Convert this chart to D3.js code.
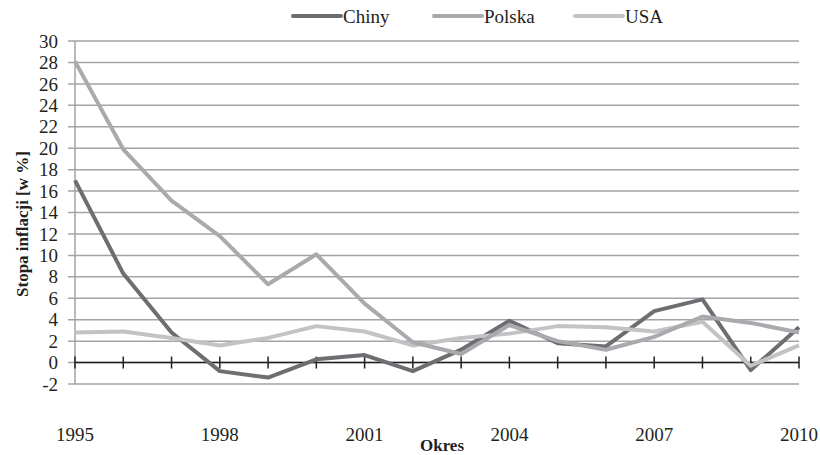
<!DOCTYPE html>
<html>
<head>
<meta charset="utf-8">
<script src="https://cdn.jsdelivr.net/npm/d3@7"></script>
<style>
  body { margin: 0; background: #fff; }
  svg text { font-family: "Liberation Serif", "Times New Roman", serif; fill: #231f20; }
</style>
</head>
<body>
<svg width="820" height="455"></svg>
<script>
(() => {

    var width = 820;
    var height = 455;
    var margin = { top: 41, bottom: 71, left: 75, right: 21 };

    // data
    var years = [1995, 1996, 1997, 1998, 1999, 2000, 2001, 2002, 2003, 2004, 2005, 2006, 2007, 2008, 2009, 2010];
    var chiny  = [17.0, 8.3, 2.8, -0.8, -1.4, 0.3, 0.7, -0.8, 1.2, 3.9, 1.8, 1.5, 4.8, 5.9, -0.7, 3.3];
    var polska = [28.1, 19.9, 15.1, 11.8, 7.3, 10.1, 5.5, 1.9, 0.8, 3.5, 2.0, 1.2, 2.4, 4.3, 3.7, 2.8];
    var usa    = [2.8, 2.9, 2.3, 1.6, 2.3, 3.4, 2.9, 1.6, 2.3, 2.7, 3.4, 3.3, 2.9, 3.8, -0.3, 1.6];
    var yearLabels = [1995, 1998, 2001, 2004, 2007, 2010];
    var yTicks = d3.range(-2, 31, 2);

    var series = [
        { name: "Chiny", values: chiny, color: "#6d6e71" },
        { name: "Polska", values: polska, color: "#a9aaad" },
        { name: "USA", values: usa, color: "#c2c3c5" }
    ];

    var svg = d3.select("svg");

    var x = d3.scaleLinear().domain([1995, 2010]).range([margin.left, width - margin.right]);
    var y = d3.scaleLinear().domain([-2, 30]).range([height - margin.bottom, margin.top]);

    // gridlines
    svg.append("g")
        .selectAll("line")
        .data(yTicks)
        .enter().append("line")
        .attr("x1", margin.left - 7)
        .attr("x2", width - margin.right)
        .attr("y1", d => y(d))
        .attr("y2", d => y(d))
        .attr("stroke", "#a3a3a5")
        .attr("stroke-width", 1.5);

    // y axis line
    svg.append("line")
        .attr("x1", margin.left).attr("x2", margin.left)
        .attr("y1", y(30)).attr("y2", y(-2))
        .attr("stroke", "#a3a3a5")
        .attr("stroke-width", 1.5);

    // y tick labels
    svg.append("g")
        .selectAll("text")
        .data(yTicks)
        .enter().append("text")
        .attr("x", 58)
        .attr("y", d => y(d))
        .attr("dy", "0.35em")
        .attr("text-anchor", "end")
        .style("font-size", "19px")
        .text(d => d);

    // x axis at zero with cross ticks
    svg.append("line")
        .attr("x1", margin.left).attr("x2", width - margin.right)
        .attr("y1", y(0)).attr("y2", y(0))
        .attr("stroke", "#231f20")
        .attr("stroke-width", 1.5);

    svg.append("g")
        .selectAll("line")
        .data(years)
        .enter().append("line")
        .attr("x1", d => x(d)).attr("x2", d => x(d))
        .attr("y1", y(0) - 6).attr("y2", y(0) + 6)
        .attr("stroke", "#231f20")
        .attr("stroke-width", 1.5);

    // year labels
    svg.append("g")
        .selectAll("text")
        .data(yearLabels)
        .enter().append("text")
        .attr("x", d => x(d))
        .attr("y", 441)
        .attr("text-anchor", "middle")
        .style("font-size", "19px")
        .text(d => d);

    // lines
    var line = d3.line()
        .x((d, i) => x(years[i]))
        .y(d => y(d));

    // draw Chiny first, then USA, then Polska on top
    [series[0], series[2], series[1]].forEach(s => {
        svg.append("path")
            .datum(s.values)
            .attr("d", line)
            .attr("fill", "none")
            .attr("stroke", s.color)
            .attr("stroke-width", 4)
            .attr("stroke-linejoin", "round");
    });

    // legend
    var legendX = [293, 434, 575];
    series.forEach((s, i) => {
        svg.append("line")
            .attr("x1", legendX[i]).attr("x2", legendX[i] + 48)
            .attr("y1", 16).attr("y2", 16)
            .attr("stroke", s.color)
            .attr("stroke-width", 4)
            .attr("stroke-linecap", "round");
        svg.append("text")
            .attr("x", legendX[i] + 50)
            .attr("y", 23)
            .style("font-size", "19px")
            .text(s.name);
    });

    // axis titles
    svg.append("text")
        .attr("transform", "translate(28," + 224 + ") rotate(-90)")
        .attr("text-anchor", "middle")
        .style("font-size", "17px")
        .style("font-weight", "bold")
        .text("Stopa inflacji [w %]");

    svg.append("text")
        .attr("x", 442)
        .attr("y", 451)
        .attr("text-anchor", "middle")
        .style("font-size", "17px")
        .style("font-weight", "bold")
        .text("Okres");

})();
</script>
</body>
</html>
